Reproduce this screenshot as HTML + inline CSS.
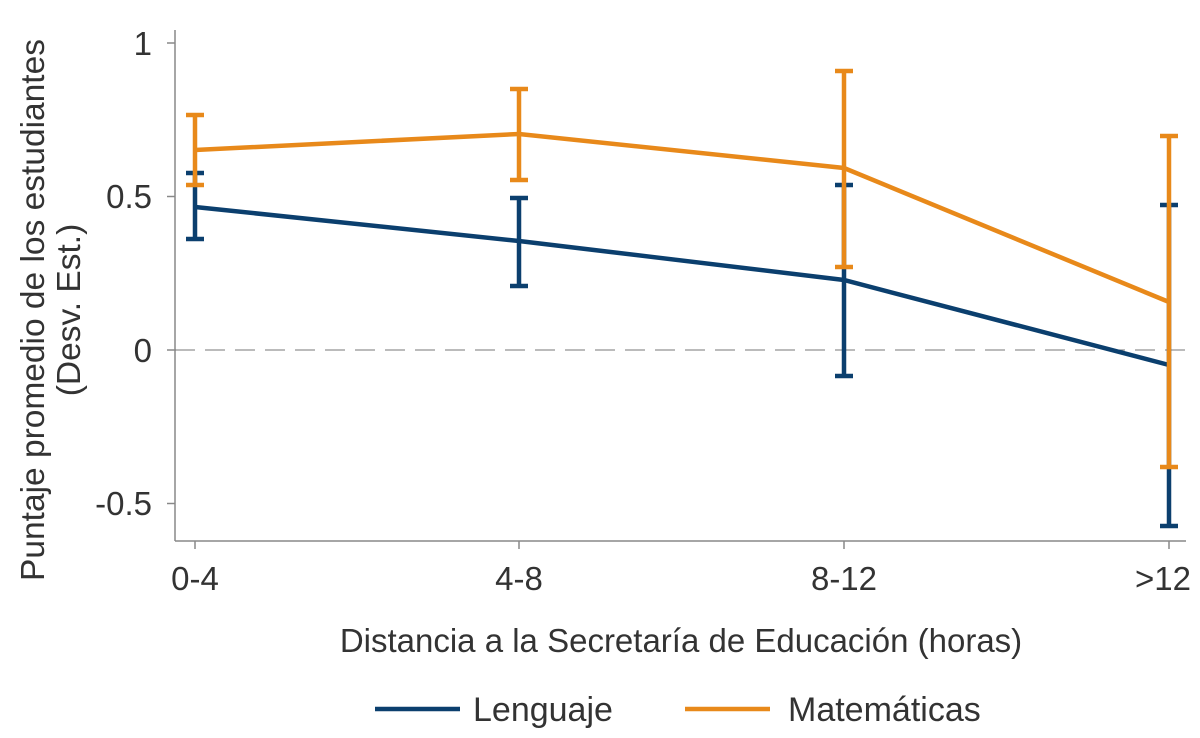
<!DOCTYPE html>
<html><head><meta charset="utf-8"><style>body{margin:0;background:#fff}svg{display:block}text{font-family:"Liberation Sans",sans-serif;fill:#333}</style></head><body>
<svg width="1200" height="738" viewBox="0 0 1200 738">
<g stroke="#888" stroke-width="1.5" fill="none">
<line x1="175" y1="30" x2="175" y2="541"/>
<line x1="175" y1="541" x2="1186" y2="541"/>
<line x1="167" y1="43" x2="175" y2="43"/><line x1="167" y1="196.5" x2="175" y2="196.5"/><line x1="167" y1="350" x2="175" y2="350"/><line x1="167" y1="503.5" x2="175" y2="503.5"/>
<line x1="195" y1="541" x2="195" y2="549"/><line x1="519" y1="541" x2="519" y2="549"/><line x1="844" y1="541" x2="844" y2="549"/><line x1="1169" y1="541" x2="1169" y2="549"/>
</g>
<line x1="175" y1="350" x2="1186" y2="350" stroke="#777" stroke-width="1" stroke-dasharray="20,10"/>
<g font-size="33" text-anchor="end"><text x="152" y="55">1</text><text x="152" y="208">0.5</text><text x="152" y="362">0</text><text x="152" y="515">-0.5</text></g>
<g font-size="33" text-anchor="middle"><text x="195" y="590">0-4</text><text x="519" y="590">4-8</text><text x="844" y="590">8-12</text><text x="1163" y="590">&gt;12</text>
<text x="681" y="652" font-size="33">Distancia a la Secretaría de Educación (horas)</text></g>
<g font-size="33.5" text-anchor="middle"><text transform="translate(44,310) rotate(-90)">Puntaje promedio de los estudiantes</text><text transform="translate(80,310) rotate(-90)">(Desv. Est.)</text></g>
<g stroke="#0b3f6e" stroke-width="4.5" fill="none">
<polyline points="195,207 519,241 844,280 1169,365"/>
<path d="M195,173V239M186,173H204M186,239H204 M519,198V286M510,198H528M510,286H528 M844,185V376M835,185H853M835,376H853 M1169,205V526M1160,205H1178M1160,526H1178"/>
</g>
<g stroke="#e8891a" stroke-width="4.5" fill="none">
<polyline points="195,150 519,134 844,168 1169,302"/>
<path d="M195,115V185M186,115H204M186,185H204 M519,89V180M510,89H528M510,180H528 M844,71V267M835,71H853M835,267H853 M1169,136V467M1160,136H1178M1160,467H1178"/>
</g>
<line x1="375" y1="709" x2="460" y2="709" stroke="#0b3f6e" stroke-width="4.5"/>
<text x="473" y="721" font-size="34">Lenguaje</text>
<line x1="685" y1="709" x2="770" y2="709" stroke="#e8891a" stroke-width="4.5"/>
<text x="788" y="721" font-size="34">Matemáticas</text>
</svg>
</body></html>
